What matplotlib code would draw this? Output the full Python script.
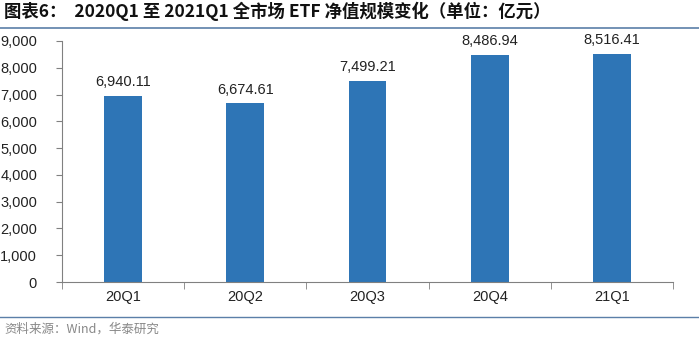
import matplotlib
matplotlib.use("Agg")
import matplotlib.pyplot as plt
from matplotlib.ticker import FuncFormatter, FixedLocator
from matplotlib.lines import Line2D

categories = ["20Q1", "20Q2", "20Q3", "20Q4", "21Q1"]
values = [6940.11, 6674.61, 7499.21, 8486.94, 8516.41]
yticks = [0, 1000, 2000, 3000, 4000, 5000, 6000, 7000, 8000, 9000]

title = "图表6：  2020Q1 至 2021Q1 全市场 ETF 净值规模变化（单位：亿元）"
source = "资料来源：Wind，华泰研究"

plt.rcParams['font.family'] = ['Liberation Sans', 'Noto Sans CJK SC', 'DejaVu Sans']

fig = plt.figure(figsize=(6.99, 3.40), dpi=100)
ax = fig.add_axes([62/699, 1-282/340, (673-62)/699, (282-41)/340])

x = list(range(len(categories)))
bars = ax.bar(x, values, width=0.31, color="#2E75B6", zorder=2)
for xi, v in zip(x, values):
    ax.text(xi, v + 250, f"{v:,.2f}", ha="center", va="bottom", fontsize=10.5, color="#222222")

ax.set_xlim(-0.5, len(categories) - 0.5)
ax.set_ylim(0, 9000)
ax.set_yticks(yticks)
ax.yaxis.set_major_formatter(FuncFormatter(lambda v, p: f"{int(v):,}"))
ax.set_xticks(x)
ax.set_xticklabels(categories)
ax.xaxis.set_minor_locator(FixedLocator([i - 0.5 for i in range(len(categories) + 1)]))
ax.tick_params(axis="x", which="major", length=0, labelsize=10.5, pad=6, colors="#222222")
ax.tick_params(axis="x", which="minor", length=5, direction="out", color="#808080")
ax.tick_params(axis="y", length=4, direction="out", labelsize=10.5, color="#808080", labelcolor="#222222", pad=14)

for s in ["top", "right"]:
    ax.spines[s].set_visible(False)
ax.spines["left"].set_color("#808080")
ax.spines["bottom"].set_color("#808080")

fig.text(4/699, 1-11/340, title, fontsize=12.5, fontweight="bold", va="center", ha="left",
         family=['Noto Sans CJK SC', 'DejaVu Sans'], color="#111111")
fig.add_artist(Line2D([0, 1], [1-28/340, 1-28/340], color="#5B7FA8", lw=1.2, transform=fig.transFigure))
fig.add_artist(Line2D([0, 1], [1-317/340, 1-317/340], color="#5B7FA8", lw=1.0, transform=fig.transFigure))
fig.text(4/699, 1-329/340, source, fontsize=9, va="center", ha="left", color="#888888",
         family=['Noto Sans CJK SC', 'DejaVu Sans'])

fig.savefig("out.png", dpi=100)
